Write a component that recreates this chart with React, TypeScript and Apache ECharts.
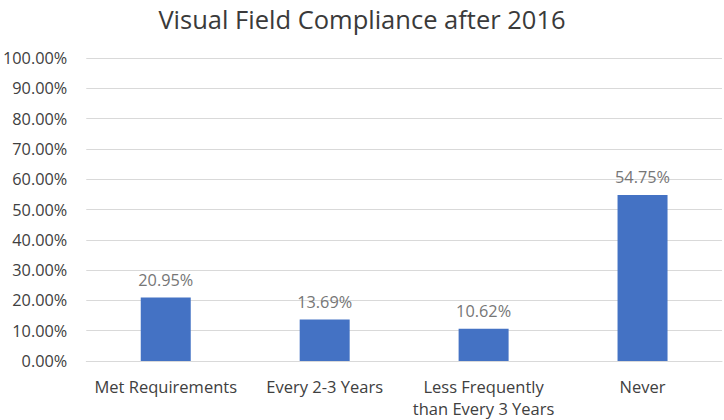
import React, { useEffect, useRef } from "react";
import * as echarts from "echarts";

const categories = [
  "Met Requirements",
  "Every 2-3 Years",
  "Less Frequently\nthan Every 3 Years",
  "Never",
];
const values = [20.95, 13.69, 10.62, 54.75];
const titleText = "Visual Field Compliance after 2016";

export default function App() {
  const ref = useRef<HTMLDivElement>(null);
  useEffect(() => {
    document.body.style.margin = "0";
    if (!ref.current) return;
    const chart = echarts.init(ref.current, undefined, { renderer: "svg" });
    const font = "'Open Sans', 'Noto Sans', sans-serif";
    chart.setOption({
      animation: false,
      title: {
        text: titleText,
        left: "center",
        top: 5,
        padding: 0,
        textStyle: {
          fontFamily: font,
          fontSize: 25.5,
          lineHeight: 28,
          fontWeight: "normal",
          color: "#3a3a3a",
        },
      },
      grid: { left: 85, right: 2, top: 58, bottom: 59, containLabel: false },
      xAxis: {
        type: "category",
        data: categories,
        axisLine: { show: true, lineStyle: { color: "#d9d9d9", width: 1 } },
        axisTick: { show: false },
        axisLabel: {
          interval: 0,
          margin: 14,
          fontFamily: font,
          fontSize: 16.5,
          lineHeight: 22,
          color: "#404040",
        },
      },
      yAxis: {
        type: "value",
        min: 0,
        max: 100,
        interval: 10,
        axisLine: { show: false },
        axisTick: { show: false },
        splitLine: { lineStyle: { color: "#d9d9d9", width: 1 } },
        axisLabel: {
          margin: 19,
          fontFamily: font,
          fontSize: 16.3,
          color: "#404040",
          formatter: (v: number) => `${v.toFixed(2)}%`,
        },
      },
      series: [
        {
          type: "bar",
          data: values,
          barWidth: 50,
          itemStyle: { color: "#4472c4" },
          label: {
            show: true,
            position: "top",
            distance: 10,
            fontFamily: font,
            fontSize: 16.3,
            color: "#767676",
            formatter: (p: any) => `${Number(p.value).toFixed(2)}%`,
          },
        },
      ],
    });
    return () => chart.dispose();
  }, []);
  return <div ref={ref} style={{ width: 724, height: 420 }} />;
}
